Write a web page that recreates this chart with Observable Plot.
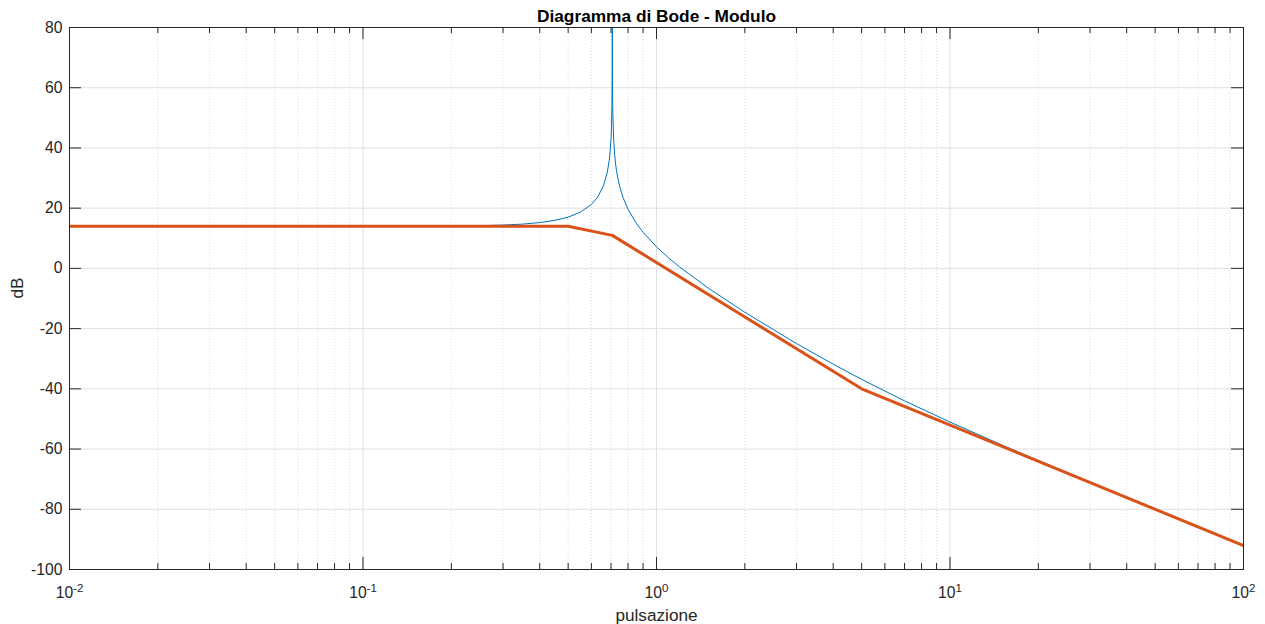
<!DOCTYPE html>
<html><head><meta charset="utf-8">
<script src="https://cdn.jsdelivr.net/npm/d3@7"></script>
<script src="https://cdn.jsdelivr.net/npm/@observablehq/plot@0.6"></script>
<style>html,body{margin:0;padding:0;background:#fff} svg{display:block}</style>
</head><body><div id="chart"></div>
<script>
// exact magnitude (dB)
const omegaExact = [0.1, 0.15, 0.2, 0.25, 0.3, 0.35, 0.4, 0.45, 0.5, 0.55, 0.6, 0.63, 0.66, 0.68, 0.69, 0.695, 0.70, 0.7025, 0.705, 0.7065, 0.707, 0.7071, 0.7072, 0.708, 0.71, 0.715, 0.72, 0.725, 0.73, 0.74, 0.75, 0.77, 0.8, 0.85, 0.9, 1, 1.1, 1.2, 1.5, 2, 3, 4, 5, 7, 10, 15, 20, 30, 50, 70, 100];
const dbExact = [13.99, 14.01, 14.07, 14.18, 14.38, 14.71, 15.21, 15.95, 17.03, 18.66, 21.22, 23.63, 27.48, 31.99, 35.84, 38.77, 43.33, 47.06, 53.82, 64.59, 79.7, 103.6, 80.9, 61.23, 50.99, 42.21, 37.87, 34.96, 32.75, 29.47, 27.02, 23.42, 19.63, 15.24, 12.0, 7.16, 3.47, 0.44, -6.53, -14.58, -24.98, -31.83, -36.86, -43.99, -51.04, -58.61, -63.81, -71.0, -79.96, -85.82, -92.03];
// asymptotic diagram
const omegaAsym = [0.01, 0.5, 0.7071, 5, 100];
const dbAsym = [13.98, 13.98, 10.97, -40.0, -92.04];
// ticks
const xMajor = [0.01, 0.1, 1, 10, 100];
const xExponents = ["-2", "-1", "0", "1", "2"];
const xMinor = [0.02,0.03,0.04,0.05,0.06,0.07,0.08,0.09, 0.2,0.3,0.4,0.5,0.6,0.7,0.8,0.9, 2,3,4,5,6,7,8,9, 20,30,40,50,60,70,80,90];
const yTicks = [-100, -80, -60, -40, -20, 0, 20, 40, 60, 80];
const titleText = "Diagramma di Bode - Modulo";
const xLabel = "pulsazione";
const yLabel = "dB";

const exact = omegaExact.map((w, i) => ({w, db: dbExact[i]}));
const asym = omegaAsym.map((w, i) => ({w, db: dbAsym[i]}));
const xLabels = xMajor.map((w, i) => ({w, e: xExponents[i]}));

const W = 1265, H = 624, mL = 69, mR = 22, mT = 27, mB = 55;
const fw = W - mL - mR, fh = H - mT - mB;
const axisColor = "#262626";
const font = "'Liberation Sans', Arial, Helvetica, sans-serif";
const tickFs = 15.7, labelFs = 17.2, titleFs = 17.3;

const chart = Plot.plot({
  width: W, height: H,
  marginLeft: mL, marginRight: mR, marginTop: mT, marginBottom: mB,
  x: {type: "log", domain: [0.01, 100], axis: null},
  y: {domain: [-100, 80], axis: null},
  style: {fontFamily: font, background: "#fff", overflow: "visible"},
  marks: [
    // grid
    Plot.ruleX(xMinor, {x: d => d, stroke: "#dedede", strokeDasharray: "1,2"}),
    Plot.ruleX(xMajor, {x: d => d, stroke: "#e0e0e0"}),
    Plot.ruleY(yTicks, {y: d => d, stroke: "#e0e0e0"}),
    // data
    Plot.line(exact, {x: "w", y: "db", stroke: "#0072BD", strokeWidth: 1, clip: true}),
    Plot.line(asym, {x: "w", y: "db", stroke: "#D95319", strokeWidth: 3, clip: true}),
    // inward ticks on all four sides
    Plot.ruleX(xMajor, {x: d => d, insetTop: fh - 12, stroke: axisColor}),
    Plot.ruleX(xMajor, {x: d => d, insetBottom: fh - 12, stroke: axisColor}),
    Plot.ruleX(xMinor, {x: d => d, insetTop: fh - 6, stroke: axisColor}),
    Plot.ruleX(xMinor, {x: d => d, insetBottom: fh - 6, stroke: axisColor}),
    Plot.ruleY(yTicks, {y: d => d, insetRight: fw - 12, stroke: axisColor}),
    Plot.ruleY(yTicks, {y: d => d, insetLeft: fw - 12, stroke: axisColor}),
    Plot.frame({stroke: axisColor}),
    // tick labels
    Plot.text(yTicks, {y: d => d, frameAnchor: "left", lineAnchor: "middle", textAnchor: "end", dx: -7, text: d => String(d), fontSize: tickFs, fill: axisColor}),
    Plot.text(xLabels, {x: "w", frameAnchor: "bottom", lineAnchor: "middle", dy: 23, text: d => "10^" + d.e, fontSize: tickFs, fill: axisColor}),
    // titles
    Plot.text([titleText], {frameAnchor: "top", lineAnchor: "middle", dy: -11.5, text: d => d, fontSize: titleFs, fontWeight: "bold", fill: "#000"}),
    Plot.text([xLabel], {frameAnchor: "bottom", lineAnchor: "middle", dy: 46, text: d => d, fontSize: labelFs, fill: axisColor}),
    Plot.text([yLabel], {frameAnchor: "left", lineAnchor: "middle", dx: -52.5, rotate: -90, text: d => d, fontSize: labelFs, fill: axisColor})
  ]
});
document.getElementById("chart").appendChild(chart);

// superscript exponents on x tick labels (10^n)
d3.select(chart).selectAll("text").each(function() {
  const t = d3.select(this);
  const s = t.text();
  if (!s.includes("^")) return;
  const parts = s.split("^");
  t.text(parts[0]);
  t.append("tspan").attr("dy", "-5.5").attr("font-size", "11.5px").text(parts[1]);
});
</script>
</body></html>
